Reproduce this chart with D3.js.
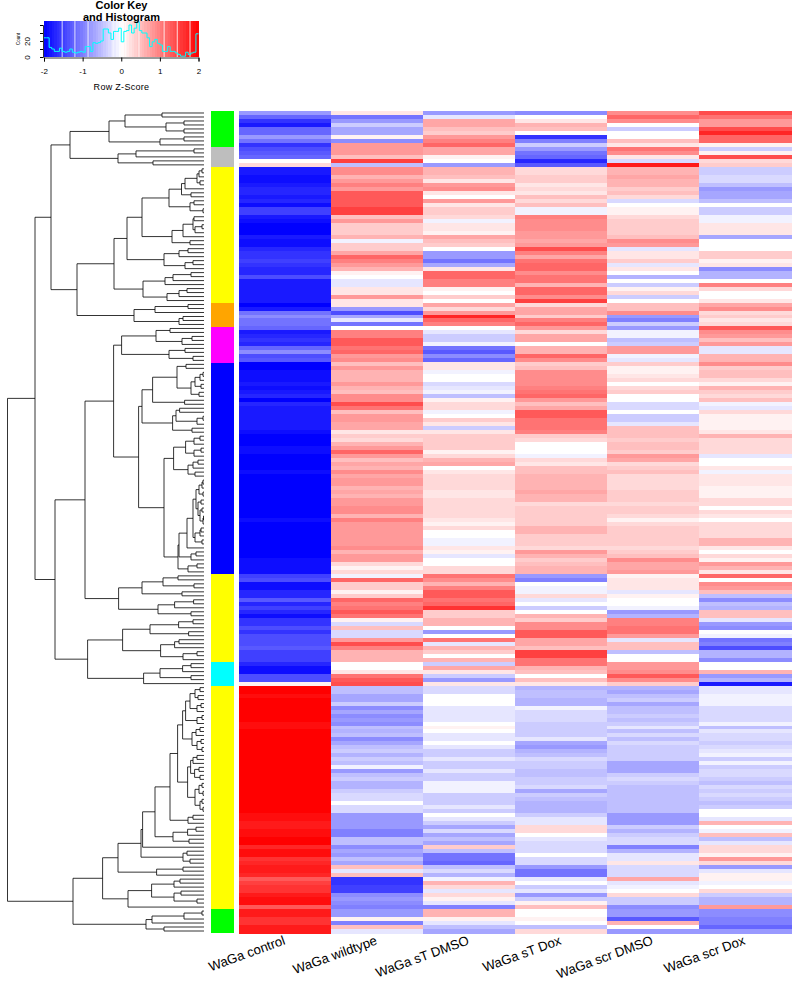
<!DOCTYPE html>
<html><head><meta charset="utf-8">
<script src="https://cdn.jsdelivr.net/npm/d3@7"></script>
<style>html,body{margin:0;background:#fff}svg{display:block}text{font-family:"Liberation Sans",Arial,sans-serif;fill:#000}</style>
</head><body><script>
const sampleLabels=["WaGa control","WaGa wildtype","WaGa sT DMSO","WaGa sT Dox","WaGa scr DMSO","WaGa scr Dox"];
// row z-scores, in tenths
const control=[-8,-12,-16,-18,-12,-12,-8,-11,-16,-14,
-13,-12,0,3,-18,-18,-19,-19,-18,-17,
-17,-18,-17,-19,-15,-15,-18,-19,-20,-20,
-20,-18,-19,-19,-17,-16,-16,-15,-16,-17,
-17,-14,-18,-18,-18,-18,-18,-18,-20,-18,
-11,-9,-11,-11,-12,-18,-17,-16,-17,-12,
-9,-14,-13,-20,-20,-19,-19,-19,-18,-19,
-18,-17,-20,-17,-18,-18,-18,-18,-18,-18,
-19,-20,-20,-20,-19,-19,-20,-20,-20,-20,
-19,-20,-20,-20,-20,-20,-20,-20,-20,-20,
-20,-20,-19,-20,-20,-20,-20,-20,-20,-20,
-20,-20,-19,-19,-19,-19,-15,-14,-19,-19,
-17,-17,-13,-17,-15,-17,-19,-16,-16,-14,
-16,-14,-14,-14,-13,-15,-15,-15,-17,-19,
-19,-14,-14,1,20,20,19,20,20,20,
20,20,20,19,19,20,20,20,20,20,
20,20,20,20,20,20,20,20,20,20,
20,20,20,20,20,20,19,19,18,18,
19,19,20,20,17,19,19,16,17,18,
18,17,13,15,16,16,18,19,19,13,
18,18,16,16,18,18];
const wildtype=[2,-11,-8,-4,-7,-7,1,-9,8,8,
8,5,15,-5,9,9,6,8,10,8,
13,13,13,13,15,15,5,8,4,4,
4,6,-1,4,4,7,12,10,8,6,
1,0,-2,-2,2,2,8,2,2,-8,
-14,-7,-2,-11,0,10,10,13,13,11,
12,8,9,5,8,6,6,6,8,6,
5,9,9,14,11,5,8,8,7,7,
2,4,3,6,8,12,8,5,7,6,
9,7,8,8,6,7,6,8,8,9,
9,6,10,8,8,8,8,8,8,9,
6,8,8,3,1,3,-1,12,4,4,
1,4,12,10,11,13,11,1,-3,5,
-3,-3,8,14,10,6,6,6,0,0,
2,11,13,14,-5,-5,-7,-7,-4,-9,
-7,-9,-8,-9,-5,-6,-5,-9,-7,-5,
-4,-6,-4,-5,-1,-8,-5,-4,-6,-6,
-4,-3,-3,0,-3,-3,-8,-8,-8,-8,
-10,-10,-5,-5,-9,-7,-8,-5,-7,5,
-2,5,-16,-16,-15,-15,-9,-8,-9,-10,
-8,-8,1,-10,5,-2];
const stDmso=[-8,-2,7,7,5,4,8,10,12,7,
7,1,0,-8,6,6,5,2,8,9,
2,0,8,2,4,4,3,-1,2,2,
1,7,5,4,0,-8,-8,-11,-7,2,
12,12,10,10,1,0,4,0,7,3,
8,17,12,10,0,-2,-4,-4,-1,-11,
-13,-9,-12,2,2,-1,0,0,-3,-2,
-1,-5,1,3,3,-1,0,4,2,-4,
2,4,4,4,4,1,3,6,7,0,
2,3,3,3,3,2,2,3,3,3,
3,3,2,1,3,0,0,-1,-1,2,
1,-2,0,0,3,3,11,9,6,10,
13,13,11,12,16,4,4,6,6,0,
-8,0,11,-2,6,4,0,6,-4,7,
2,-4,-8,2,-3,-3,0,0,0,-2,
-2,-2,-2,0,1,0,-2,-2,0,-2,
-4,-4,-2,-4,-4,-2,-4,-4,-1,-1,
-1,-4,-4,-4,-2,-4,0,-2,-4,-7,
-3,-7,-5,-7,4,-5,-11,-11,-12,-5,
-3,-6,-1,6,3,-2,3,1,-2,-10,
6,6,1,-2,-5,-7];
const stDox=[-9,0,2,6,5,0,-16,-10,-4,-8,
-11,-12,-17,-13,3,3,4,4,2,3,
2,5,3,5,-1,-1,10,9,9,9,
8,8,7,8,14,10,7,11,12,12,
9,11,11,6,12,12,9,15,3,7,
7,4,10,12,8,3,7,7,0,6,
6,12,9,4,5,9,9,9,9,10,
11,12,8,5,7,13,13,11,11,11,
10,4,3,0,0,0,-1,3,2,5,
5,6,6,6,6,7,6,6,3,4,
4,4,4,4,6,6,4,4,4,3,
8,6,4,5,6,6,-8,-10,0,-1,
-1,3,-2,0,-4,0,6,4,9,9,
13,13,7,7,5,15,15,11,11,6,
5,0,5,2,-6,-5,-5,-6,-6,-1,
-3,-3,-3,-4,-4,-4,-4,-2,-7,-8,
-6,-5,-3,-4,-4,-5,-5,-4,-4,-3,
-7,-4,-5,-6,-6,-6,-4,-2,-2,3,
3,0,-2,-3,-3,-3,0,-3,-3,-8,
-11,-11,-2,0,-4,-2,-8,-4,1,5,
0,0,1,0,-5,3];
const scrDmso=[9,12,9,0,-4,0,0,5,2,11,
9,2,-3,18,6,6,7,6,6,4,
5,3,-3,0,1,1,3,4,4,4,
4,5,9,8,-2,2,2,4,-2,2,
0,-6,0,-4,1,3,-4,0,5,5,
9,-8,-10,-4,-8,-1,-1,-5,-4,8,
8,-1,-2,4,1,1,2,3,0,3,
4,0,0,-3,-3,0,-4,-4,-2,5,
5,5,4,5,5,4,8,7,3,4,
5,3,3,3,3,4,4,4,3,4,
4,3,1,3,4,4,4,4,4,3,
4,5,9,7,7,8,1,2,2,2,
-2,1,0,0,-1,-8,-6,10,10,11,
11,8,-2,5,5,-5,0,0,8,8,
9,13,9,4,-6,-7,-5,-4,-7,-5,
-5,-4,-5,-4,-2,-5,-3,-5,-3,-4,
-4,-4,-4,-7,-7,-7,-4,-3,-4,-5,
-5,-5,-5,-5,-5,-5,-8,-8,-8,-4,
-6,-4,-3,-3,-10,-6,-2,-2,2,-3,
-3,-3,7,-2,-1,0,3,-4,-4,-9,
-8,-8,-13,6,0,-8];
const scrDox=[14,11,8,8,14,17,12,12,1,-4,
1,14,3,4,-4,-4,-3,-3,-5,-8,
-7,-7,-5,0,-4,-4,-1,-1,2,2,
2,-7,0,0,0,4,4,1,2,-9,
-6,-6,0,10,3,0,0,2,7,9,
3,4,2,3,13,9,8,5,8,-2,
-2,6,6,9,4,5,5,3,1,6,
4,3,5,-1,-2,3,1,1,1,1,
2,6,3,3,3,3,-2,0,0,2,
-1,2,2,2,1,1,1,3,3,0,
3,2,0,3,3,3,3,6,6,2,
0,3,1,8,6,2,12,0,9,8,
5,-5,-9,-5,-6,5,5,-2,-8,-9,
0,-1,-11,-10,-14,-6,-6,-9,0,0,
6,-8,-6,-18,-2,-2,-1,-1,-1,-3,
-3,-3,-3,-1,-5,-2,-3,-3,-4,-3,
-2,-1,-4,-1,-4,-3,-3,-4,-5,-3,
-4,-3,-4,-5,-4,0,0,-2,6,0,
-1,5,-5,-2,3,3,1,8,3,-8,
-2,1,1,-1,0,3,-4,-6,-6,8,
-9,-9,-10,-10,-12,-8];
const series=[control,wildtype,stDmso,stDox,scrDmso,scrDox];
const sideColours=["#00ff00","#bebebe","#ffff00","#ffa500","#ff00ff","#0000ff","#ffff00","#00ffff","#ffff00","#00ff00"];
const sideCounts=[9,5,34,6,9,53,22,6,56,6];
const histCounts=[24,24,12,10,7,7,11,7,6,7,10,6,5,6,7,6,13,13,7,18,17,18,20,35,35,30,22,32,32,36,19,32,33,40,30,36,44,33,30,30,24,13,19,22,17,15,7,7,13,7,7,5,3,1,1,6,3,5,6,29];
const keySeams=[-1.53,-1.2,-0.86,-0.21,0.12,0.46,1.11,1.45,1.78];
// dendrogram: [merge height, upper child, lower child]; 0 is a leaf
const cluster1=[134,[95,[79,[42,0,0],[38,[20,0,0],[20,0,0]]],[44,[20,0,0],0]],[86,[68,[10,0,0],0],[51,0,0]]];
const cluster2=[127,[90,[77,[62,[35,[22.5,[19,[7,[5,[2,0,0],0],[4,0,0]],0],[13,0,0]],[14,[10,0,0],[1,0,0]]],[32,[21,[11,[10,0,0],[9,[2,0,0],0]],0],[14,0,0]]],[40,[25,[16,0,0],0],[19,[11,0,0],0]]],[61,[39,[31,[13,0,0],0],0],[37,[25,[17,0,0],0],0]]],[70,[49,[16,0,0],0],[25,[21,0,0],0]]];
const cluster3=[119,[90.4,[82.4,[48,[34,0,0],[22,[12,0,0],0]],[35,[19,0,0],[11,0,0]]],[65.4,[62,[51.4,[27,[18,0,0],[13,[9,[4,[1,0,0],0],[3,0,0]],[5,0,0]]],[19.4,0,0]],[31.4,[28,[24.4,0,0],[7,[1,0,0],0]],[12,0,0]]],[40,[30.4,[18.4,[10,[4,0,0],0],[10,[3,0,0],0]],[16,[11,[6,0,0],0],[9,0,0]]],[26,[25,[17,[11,[8,[5,[2,[1,0,0],0],[1,0,0]],[6,[3,0,0],[4,[2,0,0],[1,[0.5,0,0],0]]]],[9,[4,[3,0,0],0],[2,0,0]]],0],[13,[8,0,0],0]],[16,[7,0,0],0]]]]],[85.4,[62,[41,[26,0,0],[10,0,0]],[22,0,0]],[46,[29.4,[10.4,0,0],0],[13,0,0]]]];
const cluster4=[116.4,[81.4,[54,[25.4,[11,0,0],0],[15.4,0,0]],[43.4,[29.4,[25,0,0],0],[21,[7,0,0],0]]],[60.4,[44,[21.4,[13,0,0],0],[13,0,0]],0]];
const cluster5=[131,[101.4,[86,[63,[61.4,[49,[34,[26.4,[21.4,[18.4,[14,[9,[4,0,0],[6,0,0]],[7,[3,0,0],0]],[7,[2,0,0],0]],[12,[8,[4,0,0],0],[7,[3,0,0],[2,0,0]]]],[16.4,[13.4,[11,[7,0,0],0],[9.4,[5,0,0],[4,0,0]]],[9,[5,[2,0,0],[1,0,0]],[4,[2,0,0],[1,0,0]]]]],[16,[11,0,0],0]],[31,[16.4,[8,0,0],0],[15,0,0]]],0],[21,[17,0,0],[14,0,0]]],[47.4,[21,0,0],0]],[76,[52.4,[30,[24,0,0],0],[30,[23,0,0],[7,0,0]]],0]],[58,[52,[20,[2,0,0],0],0],[40,0,0]]];
const rootTree=[196.5,[169,[153,cluster1,cluster2],[149,cluster3,cluster4]],cluster5];

const svg=d3.select("body").append("svg").attr("width",800).attr("height",1000);
const nRows=control.length;
const x=d3.scaleBand().domain(d3.range(6)).range([239,791]);
const y=d3.scaleBand().domain(d3.range(nRows)).range([111,933]);
const colour=d3.scaleLinear().domain([-2,0,2]).range(["#0000ff","#ffffff","#ff0000"]);

// heatmap
const cols=svg.append("g").attr("shape-rendering","crispEdges").selectAll("g").data(series).join("g");
cols.selectAll("rect").data((s,c)=>s.map((v,r)=>({v:v/10,r,c}))).join("rect")
 .attr("x",d=>x(d.c)).attr("width",x.bandwidth()+.5)
 .attr("y",d=>y(d.r)).attr("height",y.bandwidth()+.5)
 .attr("fill",d=>colour(d.v));

// row side colours
let acc=0;
const sideRows=sideCounts.map((n,i)=>{const o={start:acc,n,c:sideColours[i]};acc+=n;return o;});
svg.append("g").attr("shape-rendering","crispEdges").selectAll("rect").data(sideRows).join("rect")
 .attr("x",211).attr("width",23)
 .attr("y",d=>y(d.start)+.4).attr("height",d=>y.bandwidth()*d.n)
 .attr("fill",d=>d.c);

// column labels
svg.append("g").selectAll("text").data(sampleLabels).join("text")
 .attr("transform",(d,i)=>`translate(${x(i)+x.bandwidth()/2+1},944) rotate(-20)`)
 .attr("text-anchor","end").attr("font-size",13.2).text(d=>d);

// dendrogram
const root=d3.hierarchy(rootTree,d=>Array.isArray(d)?d.slice(1):null);
const h=d3.scaleLinear().domain([0,196.5]).range([204,7.5]);
let leaf=0;
root.eachAfter(n=>{
 if(n.children){n.h=n.data[0];n.yy=(n.children[0].yy+n.children[1].yy)/2;}
 else{n.h=0;n.yy=y(leaf)+y.bandwidth()/2;leaf++;}
});
const seg=[];
root.each(n=>{if(n.children){
 const [a,b]=n.children;
 seg.push(`M${h(a.h)},${a.yy}H${h(n.h)}V${b.yy}H${h(b.h)}`);
}});
svg.append("path").attr("d",seg.join("")).attr("fill","none").attr("stroke","#000").attr("stroke-width",.8);

// colour key
const kx=d3.scaleLinear().domain([-2,2]).range([44,198.5]);
const ky=d3.scaleLinear().domain([0,40]).range([57,25]);
const key=svg.append("g");
const edges=d3.range(histCounts.length+1).map(i=>-2+4*i/histCounts.length);
key.append("g").attr("shape-rendering","crispEdges").selectAll("rect").data(d3.range(histCounts.length)).join("rect")
 .attr("x",i=>kx(edges[i])).attr("width",i=>kx(edges[i+1])-kx(edges[i])+.6)
 .attr("y",21).attr("height",36).attr("fill",i=>colour((edges[i]+edges[i+1])/2));
key.append("g").selectAll("line").data(keySeams).join("line")
 .attr("x1",kx).attr("x2",kx).attr("y1",21).attr("y2",57).attr("stroke","#fff").attr("stroke-width",.8);
const histPts=histCounts.map((c,i)=>[edges[i],c]).concat([[2,histCounts[histCounts.length-1]]]);
key.append("path").attr("d",d3.line().x(d=>kx(d[0])).y(d=>ky(d[1])).curve(d3.curveStepAfter)(histPts))
 .attr("fill","none").attr("stroke","#00ffff").attr("stroke-width",1);
const xAxis=key.append("g").attr("transform","translate(0,57.5)").call(d3.axisBottom(kx).tickValues([-2,-1,0,1,2]).tickFormat(d=>String(d)).tickSize(4).tickPadding(7));
const yAxis=key.append("g").attr("transform","translate(43,0)").call(d3.axisLeft(ky).tickValues([0,10,20,30,40]).tickSize(3).tickFormat(d=>(d===0||d===20)?d:""));
xAxis.selectAll("text").attr("font-size",8).attr("font-family",'"Liberation Sans"').style("letter-spacing","0.3px");
yAxis.selectAll("text").attr("font-size",8).attr("font-family",'"Liberation Sans"').attr("text-anchor","middle").attr("dy",0).attr("dx",0)
 .attr("transform","translate(-13,0) rotate(-90)").attr("x",0).attr("y",0);
yAxis.selectAll(".domain").attr("stroke-width",.8);
xAxis.selectAll(".domain").attr("stroke-width",.8);
key.append("text").attr("x",121.5).attr("y",90).attr("text-anchor","middle").attr("font-size",9).style("letter-spacing","0.3px").text("Row Z-Score");
key.append("text").attr("transform","translate(20,39) rotate(-90)").attr("text-anchor","middle").attr("font-size",4.5).text("Count");
key.append("text").attr("x",121.5).attr("y",9).attr("text-anchor","middle").attr("font-size",11).attr("font-weight","bold").text("Color Key");
key.append("text").attr("x",121.5).attr("y",21).attr("text-anchor","middle").attr("font-size",11).attr("font-weight","bold").text("and Histogram");
if(leaf!==nRows||series.some(s=>s.length!==nRows)||acc!==nRows)throw new Error(`counts leaf=${leaf} rows=${series.map(s=>s.length)} side=${acc}`);
</script></body></html>
